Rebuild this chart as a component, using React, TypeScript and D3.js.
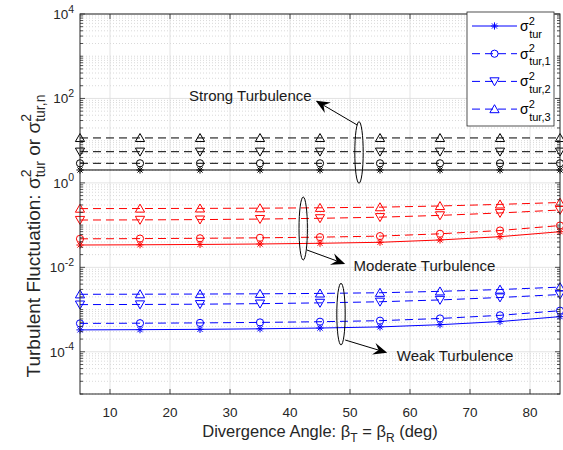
import React, { useEffect, useRef } from "react";
import * as d3 from "d3";

const width = 563;
const height = 450;
const margin = { top: 14, right: 3, bottom: 56, left: 80 };
const font = "'Liberation Sans', Arial, Helvetica, sans-serif";
const ink = "#262626";

const angles = [5, 15, 25, 35, 45, 55, 65, 75, 85];
const xTicks = [10, 20, 30, 40, 50, 60, 70, 80];
const yTickExps = [-4, -2, 0, 2, 4];

// strong turbulence (black)
const strong0 = [2.02, 2.02, 2.02, 2.02, 2.02, 2.02, 2.02, 2.02, 2.02];
const strong1 = [2.91, 2.91, 2.91, 2.91, 2.91, 2.91, 2.91, 2.91, 2.91];
const strong2 = [5.48, 5.48, 5.48, 5.48, 5.48, 5.48, 5.48, 5.48, 5.48];
const strong3 = [11.6, 11.6, 11.6, 11.6, 11.6, 11.6, 11.6, 11.6, 11.6];

// moderate turbulence (red)
const moderate0 = [0.0338, 0.0342, 0.0348, 0.0357, 0.0371, 0.0392, 0.0445, 0.0532, 0.0698];
const moderate1 = [0.0473, 0.0479, 0.0487, 0.05, 0.0519, 0.0549, 0.0623, 0.0745, 0.0977];
const moderate2 = [0.132, 0.133, 0.135, 0.139, 0.145, 0.154, 0.17, 0.194, 0.228];
const moderate3 = [0.246, 0.247, 0.249, 0.252, 0.257, 0.266, 0.284, 0.31, 0.343];

// weak turbulence (blue)
const weak0 = [3.3e-4, 3.34e-4, 3.4e-4, 3.5e-4, 3.65e-4, 3.88e-4, 4.38e-4, 5.2e-4, 6.8e-4];
const weak1 = [4.7e-4, 4.75e-4, 4.83e-4, 4.96e-4, 5.15e-4, 5.45e-4, 6.15e-4, 7.3e-4, 9.4e-4];
const weak2 = [1.31e-3, 1.32e-3, 1.34e-3, 1.38e-3, 1.44e-3, 1.53e-3, 1.69e-3, 1.93e-3, 2.27e-3];
const weak3 = [2.3e-3, 2.31e-3, 2.33e-3, 2.36e-3, 2.41e-3, 2.5e-3, 2.7e-3, 2.98e-3, 3.4e-3];

const legendSubs = ["tur", "tur,1", "tur,2", "tur,3"];

// annotations, in data units: ellipse [x, yLow, yHigh], arrow [x1, y1, x2, y2], text [x, y]
const notes = [
  { label: "Strong Turbulence", ellipse: [51.5, 0.98, 28.2], arrow: [51.2, 23.5, 44.3, 88.5], text: [43.6, 116], anchor: "end" },
  { label: "Moderate Turbulence", ellipse: [42.2, 0.0149, 0.464], arrow: [42.8, 0.0258, 49.2, 0.012], text: [50.6, 0.0108], anchor: "start" },
  { label: "Weak Turbulence", ellipse: [48.5, 1.45e-4, 4.19e-3], arrow: [49.2, 1.9e-4, 56.2, 9.5e-5], text: [57.8, 7.9e-5], anchor: "start" },
];

const markerPath = (type, r = 3.6) => {
  if (type === "star") {
    const d = r * 0.72;
    return `M${-r},0L${r},0M0,${-r}L0,${r}M${-d},${-d}L${d},${d}M${-d},${d}L${d},${-d}`;
  }
  if (type === "circle") {
    return `M${r},0A${r},${r} 0 1,1 ${-r},0A${r},${r} 0 1,1 ${r},0Z`;
  }
  if (type === "down") return `M-4.6,-3.6L4.6,-3.6L0,4.4Z`;
  return `M0,-4.4L4.6,3.6L-4.6,3.6Z`;
};

const App = () => {
  const ref = useRef(null);

  useEffect(() => {
    const svg = d3.select(ref.current);
    svg.selectAll("*").remove();

    const x = d3.scaleLinear().domain([5, 85]).range([margin.left, width - margin.right]);
    const y = d3.scaleLog().domain([1e-5, 1e4]).range([height - margin.bottom, margin.top]);
    const [x0, x1] = x.range();
    const [yb, yt] = y.range();

    // grid
    const minor = [];
    for (let n = -5; n <= 3; n++) {
      for (let k = 1; k <= 9; k++) {
        if (k === 1 && n % 2 === 0) continue;
        minor.push(k * Math.pow(10, n));
      }
    }
    svg.append("g")
      .selectAll("line")
      .data(minor)
      .join("line")
      .attr("x1", x0).attr("x2", x1)
      .attr("y1", (d) => y(d)).attr("y2", (d) => y(d))
      .attr("stroke", "#c8c8c8")
      .attr("stroke-width", 0.7)
      .attr("stroke-dasharray", "1,2");

    const grid = svg.append("g").attr("stroke", "#dcdcdc").attr("stroke-width", 0.8);
    grid.selectAll(".gx").data(xTicks).join("line")
      .attr("x1", (d) => x(d)).attr("x2", (d) => x(d)).attr("y1", yt).attr("y2", yb);
    grid.selectAll(".gy").data(yTickExps).join("line")
      .attr("x1", x0).attr("x2", x1)
      .attr("y1", (d) => y(Math.pow(10, d))).attr("y2", (d) => y(Math.pow(10, d)));

    // series
    const groups = [
      { color: "#000000", data: [strong0, strong1, strong2, strong3] },
      { color: "#ff0000", data: [moderate0, moderate1, moderate2, moderate3] },
      { color: "#0000ff", data: [weak0, weak1, weak2, weak3] },
    ];
    const markers = ["star", "circle", "down", "up"];
    const dashes = [null, "8,5", "8,5", "8,5"];

    const path = d3.line().x((d) => x(d[0])).y((d) => y(d[1]));

    groups.forEach((grp) => {
      grp.data.forEach((vals, i) => {
        const pts = angles.map((a, j) => [a, vals[j]]);
        svg.append("path")
          .datum(pts)
          .attr("fill", "none")
          .attr("stroke", grp.color)
          .attr("stroke-width", 1)
          .attr("stroke-dasharray", dashes[i])
          .attr("d", path);
        svg.append("g")
          .selectAll("path")
          .data(pts)
          .join("path")
          .attr("transform", (d) => `translate(${x(d[0])},${y(d[1])})`)
          .attr("d", markerPath(markers[i]))
          .attr("fill", "none")
          .attr("stroke", grp.color)
          .attr("stroke-width", 1);
      });
    });

    // axes box and ticks
    svg.append("rect")
      .attr("x", x0).attr("y", yt)
      .attr("width", x1 - x0).attr("height", yb - yt)
      .attr("fill", "none").attr("stroke", ink).attr("stroke-width", 1);

    const ticks = svg.append("g").attr("stroke", ink).attr("stroke-width", 0.8);
    xTicks.forEach((t) => {
      ticks.append("line").attr("x1", x(t)).attr("x2", x(t)).attr("y1", yb).attr("y2", yb - 5);
      ticks.append("line").attr("x1", x(t)).attr("x2", x(t)).attr("y1", yt).attr("y2", yt + 5);
    });
    yTickExps.forEach((e) => {
      const v = y(Math.pow(10, e));
      ticks.append("line").attr("x1", x0).attr("x2", x0 + 5).attr("y1", v).attr("y2", v);
      ticks.append("line").attr("x1", x1).attr("x2", x1 - 5).attr("y1", v).attr("y2", v);
    });
    minor.forEach((m) => {
      const v = y(m);
      ticks.append("line").attr("x1", x0).attr("x2", x0 + 3).attr("y1", v).attr("y2", v);
      ticks.append("line").attr("x1", x1).attr("x2", x1 - 3).attr("y1", v).attr("y2", v);
    });

    // tick labels
    svg.append("g")
      .selectAll("text")
      .data(xTicks)
      .join("text")
      .attr("x", (d) => x(d))
      .attr("y", yb + 23)
      .attr("text-anchor", "middle")
      .attr("font-family", font)
      .attr("font-size", 13.5)
      .attr("fill", ink)
      .text((d) => d);

    yTickExps.forEach((e) => {
      const t = svg.append("text")
        .attr("x", x0 - 6)
        .attr("y", y(Math.pow(10, e)) + 5)
        .attr("text-anchor", "end")
        .attr("font-family", font)
        .attr("font-size", 13.5)
        .attr("fill", ink);
      t.append("tspan").text("10");
      t.append("tspan").attr("dy", -6.5).attr("font-size", 10.5).text(String(e));
    });

    // axis labels
    const xl = svg.append("text")
      .attr("x", (x0 + x1) / 2)
      .attr("y", yb + 43)
      .attr("text-anchor", "middle")
      .attr("font-family", font)
      .attr("font-size", 16.5)
      .attr("fill", ink);
    xl.append("tspan").text("Divergence Angle: β");
    xl.append("tspan").attr("dy", 5).attr("font-size", 12).text("T");
    xl.append("tspan").attr("dy", -5).text(" = β");
    xl.append("tspan").attr("dy", 5).attr("font-size", 12).text("R");
    xl.append("tspan").attr("dy", -5).text(" (deg)");

    const yl = svg.append("text")
      .attr("transform", `translate(40,236) rotate(-90)`)
      .attr("text-anchor", "middle")
      .attr("font-family", font)
      .attr("font-size", 19)
      .attr("fill", ink);
    yl.append("tspan").text("Turbulent Fluctuation: σ");
    yl.append("tspan").attr("dy", -9).attr("font-size", 14).text("2");
    yl.append("tspan").attr("dx", -7.8).attr("dy", 14).attr("font-size", 14).text("tur");
    yl.append("tspan").attr("dy", -5).text(" or σ");
    yl.append("tspan").attr("dy", -9).attr("font-size", 14).text("2");
    yl.append("tspan").attr("dx", -7.8).attr("dy", 14).attr("font-size", 14).text("tur,n");

    // annotations
    notes.forEach((n) => {
      const [ex, ylo, yhi] = n.ellipse;
      const cy = (y(ylo) + y(yhi)) / 2;
      svg.append("ellipse")
        .attr("cx", x(ex)).attr("cy", cy)
        .attr("rx", 4.2).attr("ry", Math.abs(y(ylo) - y(yhi)) / 2)
        .attr("fill", "none").attr("stroke", "#000").attr("stroke-width", 1);

      const [ax1, ay1, ax2, ay2] = n.arrow;
      const p1 = [x(ax1), y(ay1)];
      const p2 = [x(ax2), y(ay2)];
      const ang = Math.atan2(p2[1] - p1[1], p2[0] - p1[0]);
      const ux = Math.cos(ang), uy = Math.sin(ang);
      const L = 14, W = 6, N = 9;
      const bx = p2[0] - ux * L, by = p2[1] - uy * L;
      const nx = p2[0] - ux * N, ny = p2[1] - uy * N;
      svg.append("line")
        .attr("x1", p1[0]).attr("y1", p1[1]).attr("x2", nx).attr("y2", ny)
        .attr("stroke", "#000").attr("stroke-width", 1);
      svg.append("path")
        .attr("d", `M${p2[0]},${p2[1]}L${bx - uy * W},${by + ux * W}L${nx},${ny}L${bx + uy * W},${by - ux * W}Z`)
        .attr("fill", "#000");

      svg.append("text")
        .attr("x", x(n.text[0]))
        .attr("y", y(n.text[1]))
        .attr("dy", "0.35em")
        .attr("text-anchor", n.anchor)
        .attr("font-family", font)
        .attr("font-size", 15)
        .attr("fill", "#1a1a1a")
        .text(n.label);
    });

    // legend
    const lg = svg.append("g");
    lg.append("rect")
      .attr("x", 467).attr("y", 12).attr("width", 87).attr("height", 114)
      .attr("fill", "#fff").attr("stroke", ink).attr("stroke-width", 0.8);
    legendSubs.forEach((s, i) => {
      const cy = 26 + i * 27.7;
      lg.append("line")
        .attr("x1", 472).attr("x2", 517).attr("y1", cy).attr("y2", cy)
        .attr("stroke", "#0000ff").attr("stroke-width", 1)
        .attr("stroke-dasharray", dashes[i]);
      lg.append("path")
        .attr("transform", `translate(494.5,${cy})`)
        .attr("d", markerPath(markers[i]))
        .attr("fill", "none").attr("stroke", "#0000ff").attr("stroke-width", 1);
      const t = lg.append("text")
        .attr("x", 520).attr("y", cy + 5)
        .attr("font-family", font).attr("font-size", 14).attr("fill", "#000");
      t.append("tspan").text("σ");
      t.append("tspan").attr("dy", -6.5).attr("font-size", 11).text("2");
      t.append("tspan").attr("dx", -5.6).attr("dy", 13).attr("font-size", 11).text(s);
    });
  }, []);

  return (
    <svg
      ref={ref}
      width={width}
      height={height}
      style={{ position: "absolute", left: 0, top: 0, background: "#fff" }}
    />
  );
};

export default App;
